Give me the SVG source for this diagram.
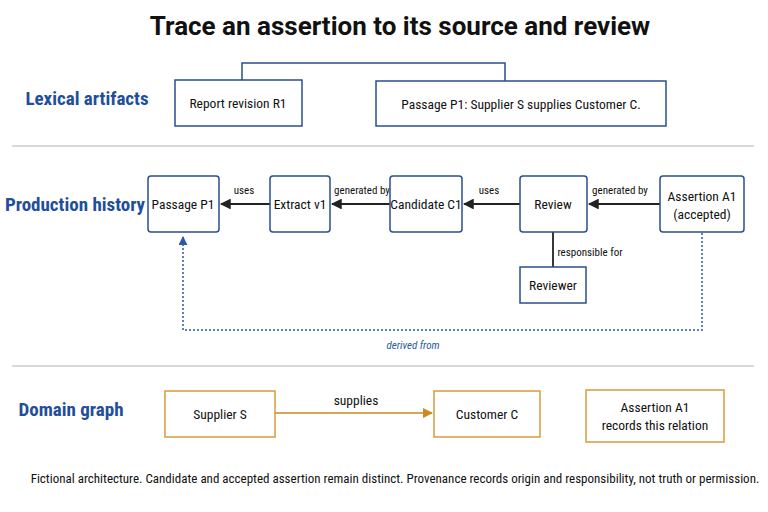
<svg xmlns="http://www.w3.org/2000/svg" width="768" height="512" viewBox="0 0 768 512">
<style>
text{font-family:"Liberation Sans Narrow","Roboto Condensed",Roboto,sans-serif;fill:#111;}
.sec{fill:#1f4e9a;font-size:19px;font-weight:bold;}
.n{font-size:13.5px;text-anchor:middle;}
.l{font-size:11px;text-anchor:middle;}
.b{fill:#fff;stroke:#2a4f8f;stroke-width:1.5;}
.o{fill:#fff;stroke:#d99a3a;stroke-width:1.5;}
.e{stroke:#222;stroke-width:1.8;fill:none;}
</style>
<defs>
<marker id="a" viewBox="0 0 10 10" refX="9" refY="5" markerWidth="6" markerHeight="6" orient="auto"><path d="M0,0L10,5L0,10z" fill="#222"/></marker>
<marker id="ab" viewBox="0 0 10 10" refX="9" refY="5" markerWidth="6" markerHeight="6" orient="auto"><path d="M0,0L10,5L0,10z" fill="#2a5aa0"/></marker>
<marker id="ao" viewBox="0 0 10 10" refX="9" refY="5" markerWidth="7" markerHeight="7" orient="auto"><path d="M0,0L10,5L0,10z" fill="#c98a20"/></marker>
</defs>
<rect width="768" height="512" fill="#fff"/>
<text x="400" y="35" font-size="26" font-weight="bold" text-anchor="middle" style="font-family:Roboto,'Liberation Sans',sans-serif">Trace an assertion to its source and review</text>
<text class="sec" x="87" y="105" text-anchor="middle">Lexical artifacts</text>
<text class="sec" x="75" y="211" text-anchor="middle">Production history</text>
<text class="sec" x="71" y="416" text-anchor="middle">Domain graph</text>
<line x1="12" y1="146" x2="754" y2="146" stroke="#ccc" stroke-width="1.5"/>
<line x1="12" y1="366" x2="754" y2="366" stroke="#ccc" stroke-width="1.5"/>
<g id="connectors">
<path d="M242,80V63H505V81" stroke="#2a4f8f" stroke-width="1.5" fill="none"/>
<line class="e" x1="270" y1="204" x2="221" y2="204" marker-end="url(#a)"/>
<line class="e" x1="390" y1="204" x2="332" y2="204" marker-end="url(#a)"/>
<line class="e" x1="520" y1="204" x2="464" y2="204" marker-end="url(#a)"/>
<line class="e" x1="660" y1="204" x2="589" y2="204" marker-end="url(#a)"/>
<line class="e" x1="553" y1="232" x2="553" y2="267"/>
<path d="M702,233V330H183V237" stroke="#2a5aa0" stroke-width="1.5" stroke-dasharray="2,2" fill="none" marker-end="url(#ab)"/>
<line x1="275" y1="413" x2="432" y2="413" stroke="#c98a20" stroke-width="1.5" marker-end="url(#ao)"/>
<text class="l" x="244" y="194">uses</text>
<text class="l" x="362" y="194">generated by</text>
<text class="l" x="489" y="194">uses</text>
<text class="l" x="620" y="194">generated by</text>
<text class="l" x="590" y="256">responsible for</text>
<text class="l" x="413" y="349" font-style="italic" style="fill:#2a5aa0">derived from</text>
<text class="n" x="356" y="405" font-size="12.5">supplies</text>
</g>
<g id="report"><rect class="b" x="175" y="80" width="127" height="46"/><text class="n" x="238" y="108">Report revision R1</text></g>
<g id="passage-text"><rect class="b" x="376" y="81" width="290" height="45"/><text class="n" x="521" y="109">Passage P1: Supplier S supplies Customer C.</text></g>
<g id="passage"><rect class="b" x="148" y="176" width="71" height="56" rx="3"/><text class="n" x="183" y="209">Passage P1</text></g>
<g id="extract"><rect class="b" x="270" y="176" width="60" height="56" rx="3"/><text class="n" x="300" y="209">Extract v1</text></g>
<g id="candidate"><rect class="b" x="390" y="176" width="72" height="56" rx="3"/><text class="n" x="426" y="209">Candidate C1</text></g>
<g id="review"><rect class="b" x="520" y="176" width="67" height="56" rx="3"/><text class="n" x="553" y="209">Review</text></g>
<g id="assertion"><rect class="b" x="660" y="176" width="84" height="56" rx="3"/><text class="n" x="702" y="201">Assertion A1</text><text class="n" x="702" y="219">(accepted)</text></g>
<g id="reviewer"><rect class="b" x="520" y="267" width="66" height="36"/><text class="n" x="553" y="290">Reviewer</text></g>
<g id="supplier"><rect class="o" x="165" y="391" width="110" height="46"/><text class="n" x="220" y="419">Supplier S</text></g>
<g id="customer"><rect class="o" x="434" y="391" width="106" height="46"/><text class="n" x="487" y="419">Customer C</text></g>
<g id="assertion-dom"><rect class="o" x="586" y="390" width="138" height="52"/><text class="n" x="655" y="412">Assertion A1</text><text class="n" x="655" y="430">records this relation</text></g>
<text x="395" y="483" font-size="13" text-anchor="middle">Fictional architecture. Candidate and accepted assertion remain distinct. Provenance records origin and responsibility, not truth or permission.</text>
</svg>
